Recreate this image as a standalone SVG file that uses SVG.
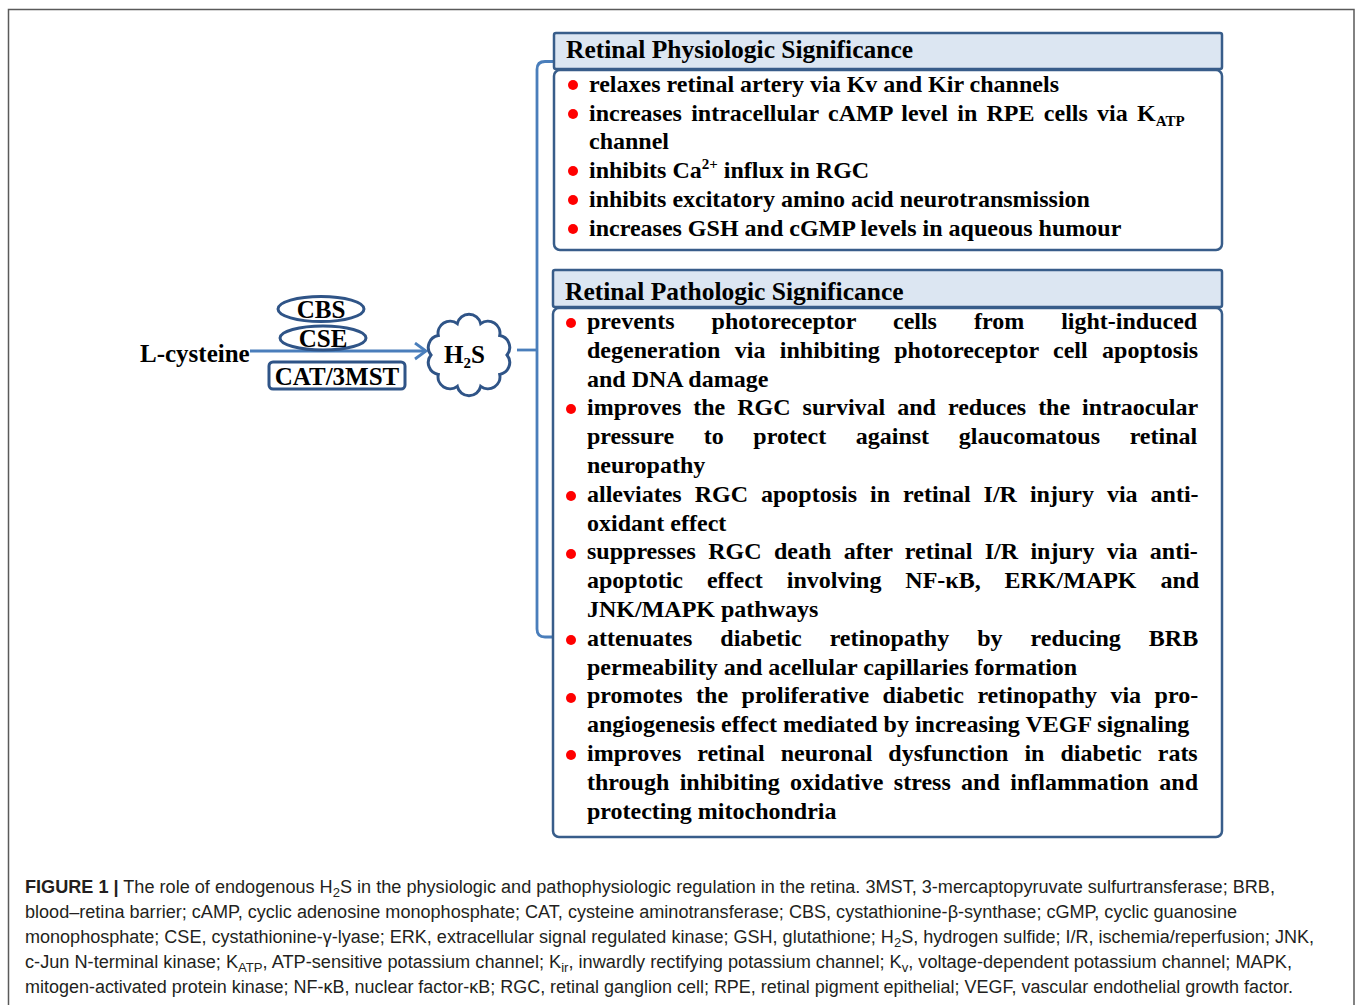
<svg xmlns="http://www.w3.org/2000/svg" width="1357" height="1005" viewBox="0 0 1357 1005">
<style>
  .frame{fill:none;stroke:#5a5a5a;stroke-width:1.5}
  .hdr{fill:#dce6f2;stroke:#385d8a;stroke-width:2.5}
  .box{fill:#ffffff;stroke:#385d8a;stroke-width:2.5}
  .ell{fill:#ffffff;stroke:#2f5487;stroke-width:3}
  .conn{fill:none;stroke:#4a7ebb;stroke-width:2.8}
  .ttl{font-family:"Liberation Serif","Times New Roman",serif;font-weight:bold;font-size:25.5px;fill:#000}
  .t{font-family:"Liberation Serif","Times New Roman",serif;font-weight:bold;font-size:24px;fill:#000}
  .lbl{font-family:"Liberation Serif","Times New Roman",serif;font-weight:bold;font-size:25px;fill:#000}
  .dot{fill:#ff0000}
  .cap{font-family:"Liberation Sans",Arial,sans-serif;font-size:18px;fill:#231f20}
  .sub{font-size:15px}
  .csub{font-size:13px}
</style>
<defs>
  <marker id="chev" markerUnits="userSpaceOnUse" markerWidth="16" markerHeight="20" refX="13" refY="9" orient="auto">
    <path d="M2,1 L13,9 L2,17" fill="none" stroke="#4a7ebb" stroke-width="2.8"/>
  </marker>
</defs>

<path class="frame" d="M8.5,1010 V9.5 H1354 V1010"/>

<g id="connectors">
  <line class="conn" x1="250" y1="351" x2="426" y2="351" marker-end="url(#chev)"/>
  <line class="conn" x1="517" y1="350" x2="537" y2="350"/>
  <path class="conn" d="M553,61.5 H545 Q537,61.5 537,69.5 V629 Q537,637 545,637 H553"/>
</g>

<g id="l-cysteine">
  <text class="lbl" x="140" y="362">L-cysteine</text>
</g>

<g id="cbs">
  <ellipse class="ell" cx="321" cy="309" rx="43" ry="12.5"/>
  <text class="lbl" x="321" y="318" text-anchor="middle">CBS</text>
</g>
<g id="cse">
  <ellipse class="ell" cx="323" cy="338" rx="43" ry="12"/>
  <text class="lbl" x="323" y="347" text-anchor="middle">CSE</text>
</g>
<g id="cat3mst">
  <rect class="ell" x="269" y="362" width="136" height="27" rx="4"/>
  <text class="lbl" x="337" y="385" text-anchor="middle">CAT/3MST</text>
</g>

<g id="h2s">
  <path class="ell" stroke-width="2.5" d="M507,355 A12 12 0 0 1 499.7,374.4 A12 12 0 0 1 480.7,386.4 A12 12 0 0 1 457.3,386.4 A12 12 0 0 1 438.3,374.4 A12 12 0 0 1 431,355 A12 12 0 0 1 438.3,335.6 A12 12 0 0 1 457.3,323.6 A12 12 0 0 1 480.7,323.6 A12 12 0 0 1 499.7,335.6 A12 12 0 0 1 507,355 Z"/>
  <text class="lbl" x="444" y="363">H<tspan class="sub" dy="5">2</tspan><tspan dy="-5">S</tspan></text>
</g>

<g id="physiologic">
  <rect class="hdr" x="554" y="33" width="668" height="36" rx="2"/>
  <text class="ttl" x="566" y="58">Retinal Physiologic Significance</text>
  <rect class="box" x="554" y="70" width="668" height="180" rx="6"/>
  <circle class="dot" cx="573" cy="85" r="5"/>
  <text class="t" x="589" y="91.5">relaxes retinal artery via Kv and Kir channels</text>
  <circle class="dot" cx="573" cy="114" r="5"/>
  <text class="t" x="589" y="120.5" style="word-spacing:3.3px">increases intracellular cAMP level in RPE cells via K<tspan class="sub" dy="5">ATP</tspan></text>
  <text class="t" x="589" y="149">channel</text>
  <circle class="dot" cx="573" cy="171" r="5"/>
  <text class="t" x="589" y="178">inhibits Ca<tspan class="sub" dy="-9">2+</tspan><tspan dy="9"> influx in RGC</tspan></text>
  <circle class="dot" cx="573" cy="200" r="5"/>
  <text class="t" x="589" y="206.5">inhibits excitatory amino acid neurotransmission</text>
  <circle class="dot" cx="573" cy="229" r="5"/>
  <text class="t" x="589" y="235.5">increases GSH and cGMP levels in aqueous humour</text>
</g>

<g id="pathologic">
  <rect class="hdr" x="553" y="270" width="669" height="37" rx="2"/>
  <text class="ttl" x="565" y="299.5">Retinal Pathologic Significance</text>
  <rect class="box" x="553" y="308" width="669" height="529" rx="6"/>

  <circle class="dot" cx="571" cy="323" r="5"/>
  <text class="t" x="587" y="329" style="word-spacing:31px">prevents photoreceptor cells from light-induced</text>
  <text class="t" x="587" y="357.8" style="word-spacing:8.4px">degeneration via inhibiting photoreceptor cell apoptosis</text>
  <text class="t" x="587" y="386.6">and DNA damage</text>

  <circle class="dot" cx="571" cy="409" r="5"/>
  <text class="t" x="587" y="415.4" style="word-spacing:6px">improves the RGC survival and reduces the intraocular</text>
  <text class="t" x="587" y="444.2" style="word-spacing:23.6px">pressure to protect against glaucomatous retinal</text>
  <text class="t" x="587" y="473">neuropathy</text>

  <circle class="dot" cx="571" cy="496" r="5"/>
  <text class="t" x="587" y="501.8" style="word-spacing:7px">alleviates RGC apoptosis in retinal I/R injury via anti-</text>
  <text class="t" x="587" y="530.6">oxidant effect</text>

  <circle class="dot" cx="571" cy="554" r="5"/>
  <text class="t" x="587" y="559.4" style="word-spacing:6.35px">suppresses RGC death after retinal I/R injury via anti-</text>
  <text class="t" x="587" y="588.2" style="word-spacing:17.9px">apoptotic effect involving NF-κB, ERK/MAPK and</text>
  <text class="t" x="587" y="617">JNK/MAPK pathways</text>

  <circle class="dot" cx="571" cy="640" r="5"/>
  <text class="t" x="587" y="645.8" style="word-spacing:22px">attenuates diabetic retinopathy by reducing BRB</text>
  <text class="t" x="587" y="674.6">permeability and acellular capillaries formation</text>

  <circle class="dot" cx="571" cy="698" r="5"/>
  <text class="t" x="587" y="703.4" style="word-spacing:7.5px">promotes the proliferative diabetic retinopathy via pro-</text>
  <text class="t" x="587" y="732.2">angiogenesis effect mediated by increasing VEGF signaling</text>

  <circle class="dot" cx="571" cy="755" r="5"/>
  <text class="t" x="587" y="761" style="word-spacing:10px">improves retinal neuronal dysfunction in diabetic rats</text>
  <text class="t" x="587" y="789.8" style="word-spacing:4.4px">through inhibiting oxidative stress and inflammation and</text>
  <text class="t" x="587" y="818.6">protecting mitochondria</text>
</g>

<g id="caption">
  <text class="cap" x="25" y="893" textLength="1250" lengthAdjust="spacingAndGlyphs"><tspan font-weight="bold">FIGURE 1 |</tspan> The role of endogenous H<tspan class="csub" dy="4">2</tspan><tspan dy="-4">S in the physiologic and pathophysiologic regulation in the retina. 3MST, 3-mercaptopyruvate sulfurtransferase; BRB,</tspan></text>
  <text class="cap" x="25" y="918" textLength="1212" lengthAdjust="spacingAndGlyphs">blood–retina barrier; cAMP, cyclic adenosine monophosphate; CAT, cysteine aminotransferase; CBS, cystathionine-β-synthase; cGMP, cyclic guanosine</text>
  <text class="cap" x="25" y="943" textLength="1289" lengthAdjust="spacingAndGlyphs">monophosphate; CSE, cystathionine-γ-lyase; ERK, extracellular signal regulated kinase; GSH, glutathione; H<tspan class="csub" dy="4">2</tspan><tspan dy="-4">S, hydrogen sulfide; I/R, ischemia/reperfusion; JNK,</tspan></text>
  <text class="cap" x="25" y="968" textLength="1267" lengthAdjust="spacingAndGlyphs">c-Jun N-terminal kinase; K<tspan class="csub" dy="4">ATP</tspan><tspan dy="-4">, ATP-sensitive potassium channel; K</tspan><tspan class="csub" dy="4">ir</tspan><tspan dy="-4">, inwardly rectifying potassium channel; K</tspan><tspan class="csub" dy="4">v</tspan><tspan dy="-4">, voltage-dependent potassium channel; MAPK,</tspan></text>
  <text class="cap" x="25" y="993" textLength="1268" lengthAdjust="spacingAndGlyphs">mitogen-activated protein kinase; NF-κB, nuclear factor-κB; RGC, retinal ganglion cell; RPE, retinal pigment epithelial; VEGF, vascular endothelial growth factor.</text>
</g>
</svg>
